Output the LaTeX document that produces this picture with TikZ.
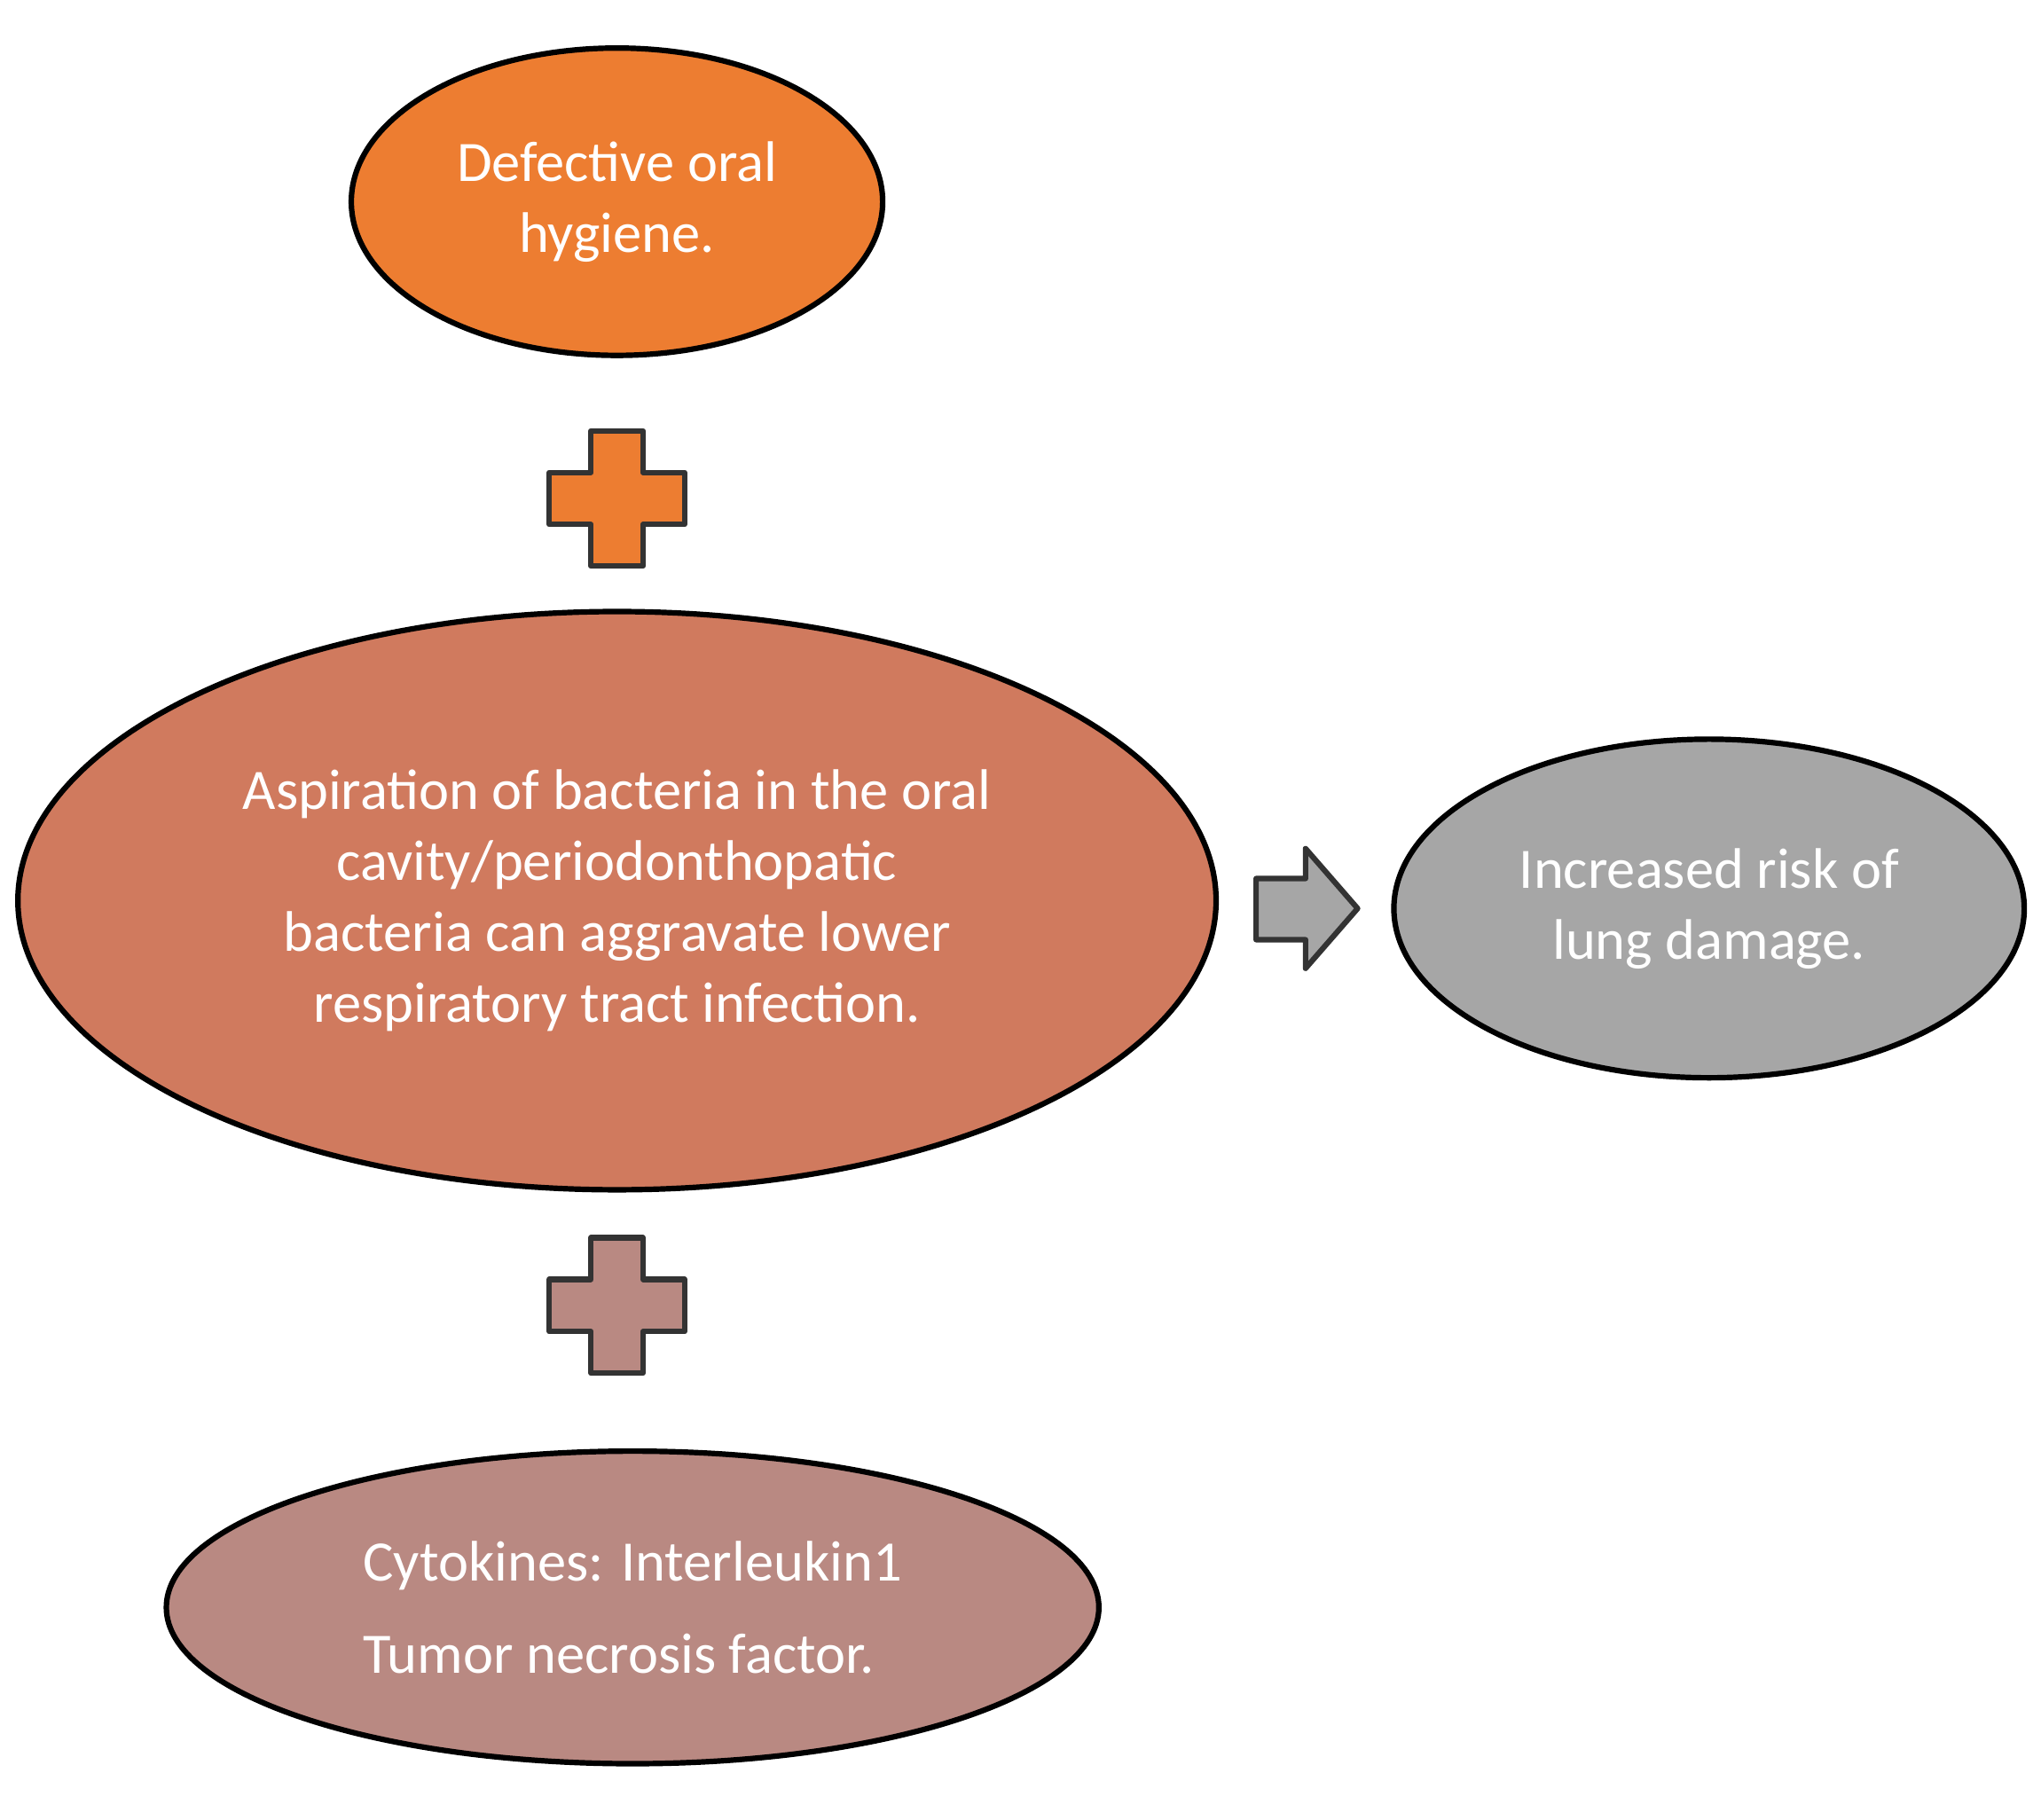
\documentclass[tikz,border=0pt]{standalone}
\usepackage{fontspec}
\setmainfont{Carlito}
\usetikzlibrary{shapes.geometric}
\definecolor{c1}{HTML}{ED7D31}
\definecolor{c2}{HTML}{D07A5E}
\definecolor{c3}{HTML}{A6A6A6}
\definecolor{c4}{HTML}{B98982}
\begin{document}
\begin{tikzpicture}[x=0.01cm,y=-0.01cm,
  el/.style={ellipse,draw=black,line width=1.2pt,text=white,align=center,inner sep=0pt,font=\fontsize{12.5}{15.5}\selectfont},
  plus/.style={draw=black!80,line width=1.2pt,line join=round}]
\useasboundingbox (0,0) rectangle (1568,1398);
\node[el,fill=c1,minimum width=408\pgflinewidth*0+4.08cm,minimum height=2.36cm] (a) at (474,155) {Defective oral\\hygiene.};
\node[el,fill=c2,minimum width=9.2cm,minimum height=4.44cm] (b) at (474,692) {Aspiration of bacteria in the oral\\cavity/periodonthopatic\\bacteria can aggravate lower\\respiratory tract infection.};
\node[el,fill=c3,minimum width=4.84cm,minimum height=2.6cm] (c) at (1313,698) {Increased risk of\\lung damage.};
\node[el,fill=c4,minimum width=7.16cm,minimum height=2.4cm,align=left,font=\fontsize{12.5}{20}\selectfont] (d) at (486,1235) {Cytokines: Interleukin1\\Tumor necrosis factor.};
\foreach \cy/\col in {383/c1,1003/c4}{
  \draw[plus,fill=\col] (454,\cy-52) -- (494,\cy-52) -- (494,\cy-20) -- (526,\cy-20) -- (526,\cy+20) -- (494,\cy+20) -- (494,\cy+52) -- (454,\cy+52) -- (454,\cy+20) -- (422,\cy+20) -- (422,\cy-20) -- (454,\cy-20) -- cycle;
}
\draw[plus,fill=c3] (965,675) -- (1003,675) -- (1003,652) -- (1043,698) -- (1003,744) -- (1003,722) -- (965,722) -- cycle;
\end{tikzpicture}
\end{document}
